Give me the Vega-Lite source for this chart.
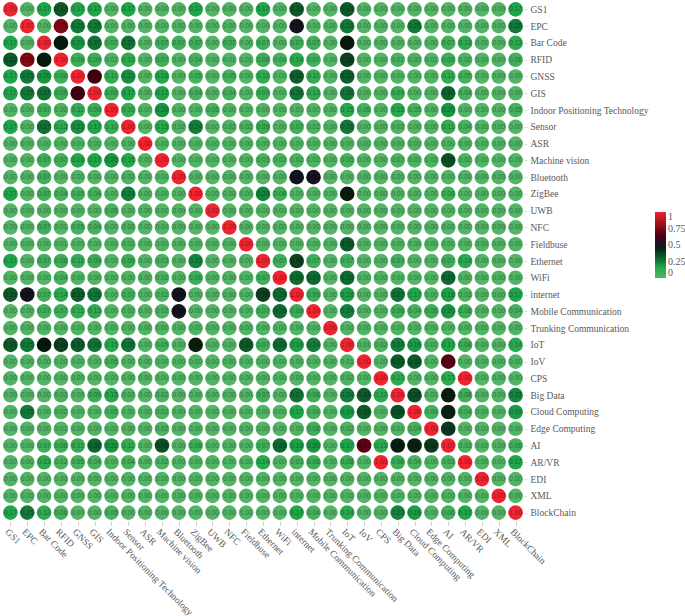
{"$schema":"https://vega.github.io/schema/vega-lite/v6.json","width":522,"height":520,"autosize":{"type":"none"},"padding":{"left":2,"top":1,"right":161,"bottom":95},"background":"white","view":{"stroke":null},"config":{"axis":{"grid":false,"domain":false}},
"data":{"values":[
{"x":0,"y":0,"v":1},{"x":1,"y":0,"v":0},{"x":2,"y":0,"v":0.17},{"x":3,"y":0,"v":0.33},{"x":4,"y":0,"v":0.17},{"x":5,"y":0,"v":0.17},{"x":6,"y":0,"v":0},{"x":7,"y":0,"v":0.17},{"x":8,"y":0,"v":0},{"x":9,"y":0,"v":0},{"x":10,"y":0,"v":0},{"x":11,"y":0,"v":0.17},{"x":12,"y":0,"v":0},{"x":13,"y":0,"v":0},{"x":14,"y":0,"v":0},{"x":15,"y":0,"v":0.17},{"x":16,"y":0,"v":0},{"x":17,"y":0,"v":0.33},{"x":18,"y":0,"v":0},{"x":19,"y":0,"v":0},{"x":20,"y":0,"v":0.33},{"x":21,"y":0,"v":0},{"x":22,"y":0,"v":0},{"x":23,"y":0,"v":0},{"x":24,"y":0,"v":0},{"x":25,"y":0,"v":0},{"x":26,"y":0,"v":0},{"x":27,"y":0,"v":0},{"x":28,"y":0,"v":0},{"x":29,"y":0,"v":0},{"x":30,"y":0,"v":0.17},
{"x":0,"y":1,"v":0},{"x":1,"y":1,"v":1},{"x":2,"y":1,"v":0},{"x":3,"y":1,"v":0.75},{"x":4,"y":1,"v":0.25},{"x":5,"y":1,"v":0.25},{"x":6,"y":1,"v":0},{"x":7,"y":1,"v":0},{"x":8,"y":1,"v":0},{"x":9,"y":1,"v":0},{"x":10,"y":1,"v":0},{"x":11,"y":1,"v":0},{"x":12,"y":1,"v":0},{"x":13,"y":1,"v":0},{"x":14,"y":1,"v":0},{"x":15,"y":1,"v":0},{"x":16,"y":1,"v":0},{"x":17,"y":1,"v":0.5},{"x":18,"y":1,"v":0},{"x":19,"y":1,"v":0},{"x":20,"y":1,"v":0.25},{"x":21,"y":1,"v":0},{"x":22,"y":1,"v":0},{"x":23,"y":1,"v":0},{"x":24,"y":1,"v":0.25},{"x":25,"y":1,"v":0},{"x":26,"y":1,"v":0},{"x":27,"y":1,"v":0},{"x":28,"y":1,"v":0},{"x":29,"y":1,"v":0},{"x":30,"y":1,"v":0.25},
{"x":0,"y":2,"v":0.17},{"x":1,"y":2,"v":0},{"x":2,"y":2,"v":1},{"x":3,"y":2,"v":0.47},{"x":4,"y":2,"v":0.2},{"x":5,"y":2,"v":0.27},{"x":6,"y":2,"v":0.07},{"x":7,"y":2,"v":0.27},{"x":8,"y":2,"v":0},{"x":9,"y":2,"v":0.07},{"x":10,"y":2,"v":0.07},{"x":11,"y":2,"v":0.07},{"x":12,"y":2,"v":0},{"x":13,"y":2,"v":0.07},{"x":14,"y":2,"v":0},{"x":15,"y":2,"v":0.07},{"x":16,"y":2,"v":0},{"x":17,"y":2,"v":0.07},{"x":18,"y":2,"v":0.07},{"x":19,"y":2,"v":0},{"x":20,"y":2,"v":0.47},{"x":21,"y":2,"v":0},{"x":22,"y":2,"v":0},{"x":23,"y":2,"v":0},{"x":24,"y":2,"v":0},{"x":25,"y":2,"v":0},{"x":26,"y":2,"v":0.07},{"x":27,"y":2,"v":0.13},{"x":28,"y":2,"v":0},{"x":29,"y":2,"v":0},{"x":30,"y":2,"v":0.13},
{"x":0,"y":3,"v":0.33},{"x":1,"y":3,"v":0.75},{"x":2,"y":3,"v":0.47},{"x":3,"y":3,"v":1},{"x":4,"y":3,"v":0.08},{"x":5,"y":3,"v":0.09},{"x":6,"y":3,"v":0.02},{"x":7,"y":3,"v":0.13},{"x":8,"y":3,"v":0},{"x":9,"y":3,"v":0.07},{"x":10,"y":3,"v":0},{"x":11,"y":3,"v":0.04},{"x":12,"y":3,"v":0},{"x":13,"y":3,"v":0.01},{"x":14,"y":3,"v":0.01},{"x":15,"y":3,"v":0.08},{"x":16,"y":3,"v":0.04},{"x":17,"y":3,"v":0.14},{"x":18,"y":3,"v":0.07},{"x":19,"y":3,"v":0},{"x":20,"y":3,"v":0.38},{"x":21,"y":3,"v":0},{"x":22,"y":3,"v":0},{"x":23,"y":3,"v":0.02},{"x":24,"y":3,"v":0.02},{"x":25,"y":3,"v":0.01},{"x":26,"y":3,"v":0.08},{"x":27,"y":3,"v":0.02},{"x":28,"y":3,"v":0},{"x":29,"y":3,"v":0},{"x":30,"y":3,"v":0.06},
{"x":0,"y":4,"v":0.17},{"x":1,"y":4,"v":0.25},{"x":2,"y":4,"v":0.2},{"x":3,"y":4,"v":0.08},{"x":4,"y":4,"v":1},{"x":5,"y":4,"v":0.62},{"x":6,"y":4,"v":0.11},{"x":7,"y":4,"v":0.21},{"x":8,"y":4,"v":0},{"x":9,"y":4,"v":0.16},{"x":10,"y":4,"v":0},{"x":11,"y":4,"v":0.05},{"x":12,"y":4,"v":0},{"x":13,"y":4,"v":0.05},{"x":14,"y":4,"v":0},{"x":15,"y":4,"v":0.11},{"x":16,"y":4,"v":0},{"x":17,"y":4,"v":0.32},{"x":18,"y":4,"v":0.11},{"x":19,"y":4,"v":0},{"x":20,"y":4,"v":0.32},{"x":21,"y":4,"v":0},{"x":22,"y":4,"v":0},{"x":23,"y":4,"v":0},{"x":24,"y":4,"v":0},{"x":25,"y":4,"v":0},{"x":26,"y":4,"v":0.11},{"x":27,"y":4,"v":0.05},{"x":28,"y":4,"v":0},{"x":29,"y":4,"v":0},{"x":30,"y":4,"v":0},
{"x":0,"y":5,"v":0.17},{"x":1,"y":5,"v":0.25},{"x":2,"y":5,"v":0.27},{"x":3,"y":5,"v":0.09},{"x":4,"y":5,"v":0.62},{"x":5,"y":5,"v":1},{"x":6,"y":5,"v":0.09},{"x":7,"y":5,"v":0.17},{"x":8,"y":5,"v":0},{"x":9,"y":5,"v":0.17},{"x":10,"y":5,"v":0},{"x":11,"y":5,"v":0.04},{"x":12,"y":5,"v":0},{"x":13,"y":5,"v":0.04},{"x":14,"y":5,"v":0},{"x":15,"y":5,"v":0.09},{"x":16,"y":5,"v":0},{"x":17,"y":5,"v":0.26},{"x":18,"y":5,"v":0.13},{"x":19,"y":5,"v":0},{"x":20,"y":5,"v":0.26},{"x":21,"y":5,"v":0},{"x":22,"y":5,"v":0},{"x":23,"y":5,"v":0.09},{"x":24,"y":5,"v":0},{"x":25,"y":5,"v":0},{"x":26,"y":5,"v":0.3},{"x":27,"y":5,"v":0.04},{"x":28,"y":5,"v":0},{"x":29,"y":5,"v":0},{"x":30,"y":5,"v":0},
{"x":0,"y":6,"v":0},{"x":1,"y":6,"v":0},{"x":2,"y":6,"v":0.07},{"x":3,"y":6,"v":0.02},{"x":4,"y":6,"v":0.11},{"x":5,"y":6,"v":0.09},{"x":6,"y":6,"v":1},{"x":7,"y":6,"v":0.1},{"x":8,"y":6,"v":0},{"x":9,"y":6,"v":0.2},{"x":10,"y":6,"v":0},{"x":11,"y":6,"v":0},{"x":12,"y":6,"v":0.05},{"x":13,"y":6,"v":0},{"x":14,"y":6,"v":0},{"x":15,"y":6,"v":0},{"x":16,"y":6,"v":0},{"x":17,"y":6,"v":0},{"x":18,"y":6,"v":0},{"x":19,"y":6,"v":0},{"x":20,"y":6,"v":0.15},{"x":21,"y":6,"v":0.05},{"x":22,"y":6,"v":0},{"x":23,"y":6,"v":0.15},{"x":24,"y":6,"v":0.05},{"x":25,"y":6,"v":0},{"x":26,"y":6,"v":0.2},{"x":27,"y":6,"v":0},{"x":28,"y":6,"v":0},{"x":29,"y":6,"v":0},{"x":30,"y":6,"v":0.05},
{"x":0,"y":7,"v":0.17},{"x":1,"y":7,"v":0},{"x":2,"y":7,"v":0.27},{"x":3,"y":7,"v":0.13},{"x":4,"y":7,"v":0.21},{"x":5,"y":7,"v":0.17},{"x":6,"y":7,"v":0.1},{"x":7,"y":7,"v":1},{"x":8,"y":7,"v":0},{"x":9,"y":7,"v":0.15},{"x":10,"y":7,"v":0.02},{"x":11,"y":7,"v":0.24},{"x":12,"y":7,"v":0},{"x":13,"y":7,"v":0.02},{"x":14,"y":7,"v":0.02},{"x":15,"y":7,"v":0.09},{"x":16,"y":7,"v":0},{"x":17,"y":7,"v":0.07},{"x":18,"y":7,"v":0.02},{"x":19,"y":7,"v":0},{"x":20,"y":7,"v":0.26},{"x":21,"y":7,"v":0},{"x":22,"y":7,"v":0},{"x":23,"y":7,"v":0.02},{"x":24,"y":7,"v":0},{"x":25,"y":7,"v":0},{"x":26,"y":7,"v":0.11},{"x":27,"y":7,"v":0.04},{"x":28,"y":7,"v":0},{"x":29,"y":7,"v":0},{"x":30,"y":7,"v":0},
{"x":0,"y":8,"v":0},{"x":1,"y":8,"v":0},{"x":2,"y":8,"v":0},{"x":3,"y":8,"v":0},{"x":4,"y":8,"v":0},{"x":5,"y":8,"v":0},{"x":6,"y":8,"v":0},{"x":7,"y":8,"v":0},{"x":8,"y":8,"v":1},{"x":9,"y":8,"v":0},{"x":10,"y":8,"v":0},{"x":11,"y":8,"v":0},{"x":12,"y":8,"v":0},{"x":13,"y":8,"v":0},{"x":14,"y":8,"v":0},{"x":15,"y":8,"v":0},{"x":16,"y":8,"v":0},{"x":17,"y":8,"v":0},{"x":18,"y":8,"v":0},{"x":19,"y":8,"v":0},{"x":20,"y":8,"v":0},{"x":21,"y":8,"v":0},{"x":22,"y":8,"v":0},{"x":23,"y":8,"v":0},{"x":24,"y":8,"v":0},{"x":25,"y":8,"v":0},{"x":26,"y":8,"v":0},{"x":27,"y":8,"v":0},{"x":28,"y":8,"v":0},{"x":29,"y":8,"v":0},{"x":30,"y":8,"v":0},
{"x":0,"y":9,"v":0},{"x":1,"y":9,"v":0},{"x":2,"y":9,"v":0.07},{"x":3,"y":9,"v":0.07},{"x":4,"y":9,"v":0.16},{"x":5,"y":9,"v":0.17},{"x":6,"y":9,"v":0.2},{"x":7,"y":9,"v":0.15},{"x":8,"y":9,"v":0},{"x":9,"y":9,"v":1},{"x":10,"y":9,"v":0},{"x":11,"y":9,"v":0},{"x":12,"y":9,"v":0},{"x":13,"y":9,"v":0},{"x":14,"y":9,"v":0},{"x":15,"y":9,"v":0.03},{"x":16,"y":9,"v":0.02},{"x":17,"y":9,"v":0.02},{"x":18,"y":9,"v":0.02},{"x":19,"y":9,"v":0},{"x":20,"y":9,"v":0.05},{"x":21,"y":9,"v":0},{"x":22,"y":9,"v":0},{"x":23,"y":9,"v":0.02},{"x":24,"y":9,"v":0.02},{"x":25,"y":9,"v":0.02},{"x":26,"y":9,"v":0.35},{"x":27,"y":9,"v":0.02},{"x":28,"y":9,"v":0},{"x":29,"y":9,"v":0},{"x":30,"y":9,"v":0},
{"x":0,"y":10,"v":0},{"x":1,"y":10,"v":0},{"x":2,"y":10,"v":0.07},{"x":3,"y":10,"v":0},{"x":4,"y":10,"v":0},{"x":5,"y":10,"v":0},{"x":6,"y":10,"v":0},{"x":7,"y":10,"v":0.02},{"x":8,"y":10,"v":0},{"x":9,"y":10,"v":0},{"x":10,"y":10,"v":1},{"x":11,"y":10,"v":0},{"x":12,"y":10,"v":0},{"x":13,"y":10,"v":0},{"x":14,"y":10,"v":0},{"x":15,"y":10,"v":0},{"x":16,"y":10,"v":0},{"x":17,"y":10,"v":0.5},{"x":18,"y":10,"v":0.5},{"x":19,"y":10,"v":0},{"x":20,"y":10,"v":0},{"x":21,"y":10,"v":0},{"x":22,"y":10,"v":0},{"x":23,"y":10,"v":0},{"x":24,"y":10,"v":0},{"x":25,"y":10,"v":0},{"x":26,"y":10,"v":0},{"x":27,"y":10,"v":0},{"x":28,"y":10,"v":0},{"x":29,"y":10,"v":0},{"x":30,"y":10,"v":0},
{"x":0,"y":11,"v":0.17},{"x":1,"y":11,"v":0},{"x":2,"y":11,"v":0.07},{"x":3,"y":11,"v":0.04},{"x":4,"y":11,"v":0.05},{"x":5,"y":11,"v":0.04},{"x":6,"y":11,"v":0},{"x":7,"y":11,"v":0.24},{"x":8,"y":11,"v":0},{"x":9,"y":11,"v":0},{"x":10,"y":11,"v":0},{"x":11,"y":11,"v":1},{"x":12,"y":11,"v":0},{"x":13,"y":11,"v":0},{"x":14,"y":11,"v":0},{"x":15,"y":11,"v":0.23},{"x":16,"y":11,"v":0.08},{"x":17,"y":11,"v":0},{"x":18,"y":11,"v":0},{"x":19,"y":11,"v":0},{"x":20,"y":11,"v":0.46},{"x":21,"y":11,"v":0},{"x":22,"y":11,"v":0},{"x":23,"y":11,"v":0},{"x":24,"y":11,"v":0},{"x":25,"y":11,"v":0},{"x":26,"y":11,"v":0.08},{"x":27,"y":11,"v":0},{"x":28,"y":11,"v":0},{"x":29,"y":11,"v":0},{"x":30,"y":11,"v":0},
{"x":0,"y":12,"v":0},{"x":1,"y":12,"v":0},{"x":2,"y":12,"v":0},{"x":3,"y":12,"v":0},{"x":4,"y":12,"v":0},{"x":5,"y":12,"v":0},{"x":6,"y":12,"v":0.05},{"x":7,"y":12,"v":0},{"x":8,"y":12,"v":0},{"x":9,"y":12,"v":0},{"x":10,"y":12,"v":0},{"x":11,"y":12,"v":0},{"x":12,"y":12,"v":1},{"x":13,"y":12,"v":0},{"x":14,"y":12,"v":0},{"x":15,"y":12,"v":0},{"x":16,"y":12,"v":0},{"x":17,"y":12,"v":0},{"x":18,"y":12,"v":0},{"x":19,"y":12,"v":0},{"x":20,"y":12,"v":0},{"x":21,"y":12,"v":0},{"x":22,"y":12,"v":0},{"x":23,"y":12,"v":0},{"x":24,"y":12,"v":0},{"x":25,"y":12,"v":0},{"x":26,"y":12,"v":0},{"x":27,"y":12,"v":0},{"x":28,"y":12,"v":0},{"x":29,"y":12,"v":0},{"x":30,"y":12,"v":0},
{"x":0,"y":13,"v":0},{"x":1,"y":13,"v":0},{"x":2,"y":13,"v":0.07},{"x":3,"y":13,"v":0.01},{"x":4,"y":13,"v":0.05},{"x":5,"y":13,"v":0.04},{"x":6,"y":13,"v":0},{"x":7,"y":13,"v":0.02},{"x":8,"y":13,"v":0},{"x":9,"y":13,"v":0},{"x":10,"y":13,"v":0},{"x":11,"y":13,"v":0},{"x":12,"y":13,"v":0},{"x":13,"y":13,"v":1},{"x":14,"y":13,"v":0},{"x":15,"y":13,"v":0},{"x":16,"y":13,"v":0},{"x":17,"y":13,"v":0},{"x":18,"y":13,"v":0},{"x":19,"y":13,"v":0},{"x":20,"y":13,"v":0},{"x":21,"y":13,"v":0},{"x":22,"y":13,"v":0},{"x":23,"y":13,"v":0},{"x":24,"y":13,"v":0},{"x":25,"y":13,"v":0},{"x":26,"y":13,"v":0},{"x":27,"y":13,"v":0},{"x":28,"y":13,"v":0},{"x":29,"y":13,"v":0},{"x":30,"y":13,"v":0},
{"x":0,"y":14,"v":0},{"x":1,"y":14,"v":0},{"x":2,"y":14,"v":0},{"x":3,"y":14,"v":0.01},{"x":4,"y":14,"v":0},{"x":5,"y":14,"v":0},{"x":6,"y":14,"v":0},{"x":7,"y":14,"v":0.02},{"x":8,"y":14,"v":0},{"x":9,"y":14,"v":0},{"x":10,"y":14,"v":0},{"x":11,"y":14,"v":0},{"x":12,"y":14,"v":0},{"x":13,"y":14,"v":0},{"x":14,"y":14,"v":1},{"x":15,"y":14,"v":0},{"x":16,"y":14,"v":0},{"x":17,"y":14,"v":0},{"x":18,"y":14,"v":0},{"x":19,"y":14,"v":0},{"x":20,"y":14,"v":0.33},{"x":21,"y":14,"v":0},{"x":22,"y":14,"v":0},{"x":23,"y":14,"v":0},{"x":24,"y":14,"v":0},{"x":25,"y":14,"v":0},{"x":26,"y":14,"v":0},{"x":27,"y":14,"v":0},{"x":28,"y":14,"v":0},{"x":29,"y":14,"v":0},{"x":30,"y":14,"v":0},
{"x":0,"y":15,"v":0.17},{"x":1,"y":15,"v":0},{"x":2,"y":15,"v":0.07},{"x":3,"y":15,"v":0.08},{"x":4,"y":15,"v":0.11},{"x":5,"y":15,"v":0.09},{"x":6,"y":15,"v":0},{"x":7,"y":15,"v":0.09},{"x":8,"y":15,"v":0},{"x":9,"y":15,"v":0.03},{"x":10,"y":15,"v":0},{"x":11,"y":15,"v":0.23},{"x":12,"y":15,"v":0},{"x":13,"y":15,"v":0},{"x":14,"y":15,"v":0},{"x":15,"y":15,"v":1},{"x":16,"y":15,"v":0.07},{"x":17,"y":15,"v":0.38},{"x":18,"y":15,"v":0.07},{"x":19,"y":15,"v":0},{"x":20,"y":15,"v":0.07},{"x":21,"y":15,"v":0},{"x":22,"y":15,"v":0},{"x":23,"y":15,"v":0.07},{"x":24,"y":15,"v":0},{"x":25,"y":15,"v":0},{"x":26,"y":15,"v":0.07},{"x":27,"y":15,"v":0.14},{"x":28,"y":15,"v":0},{"x":29,"y":15,"v":0},{"x":30,"y":15,"v":0},
{"x":0,"y":16,"v":0},{"x":1,"y":16,"v":0},{"x":2,"y":16,"v":0},{"x":3,"y":16,"v":0.04},{"x":4,"y":16,"v":0},{"x":5,"y":16,"v":0},{"x":6,"y":16,"v":0},{"x":7,"y":16,"v":0},{"x":8,"y":16,"v":0},{"x":9,"y":16,"v":0.02},{"x":10,"y":16,"v":0},{"x":11,"y":16,"v":0.08},{"x":12,"y":16,"v":0},{"x":13,"y":16,"v":0},{"x":14,"y":16,"v":0},{"x":15,"y":16,"v":0.07},{"x":16,"y":16,"v":1},{"x":17,"y":16,"v":0.29},{"x":18,"y":16,"v":0.29},{"x":19,"y":16,"v":0},{"x":20,"y":16,"v":0.29},{"x":21,"y":16,"v":0},{"x":22,"y":16,"v":0},{"x":23,"y":16,"v":0},{"x":24,"y":16,"v":0},{"x":25,"y":16,"v":0},{"x":26,"y":16,"v":0.29},{"x":27,"y":16,"v":0},{"x":28,"y":16,"v":0},{"x":29,"y":16,"v":0},{"x":30,"y":16,"v":0},
{"x":0,"y":17,"v":0.33},{"x":1,"y":17,"v":0.5},{"x":2,"y":17,"v":0.07},{"x":3,"y":17,"v":0.14},{"x":4,"y":17,"v":0.32},{"x":5,"y":17,"v":0.26},{"x":6,"y":17,"v":0},{"x":7,"y":17,"v":0.07},{"x":8,"y":17,"v":0},{"x":9,"y":17,"v":0.02},{"x":10,"y":17,"v":0.5},{"x":11,"y":17,"v":0},{"x":12,"y":17,"v":0},{"x":13,"y":17,"v":0},{"x":14,"y":17,"v":0},{"x":15,"y":17,"v":0.38},{"x":16,"y":17,"v":0.29},{"x":17,"y":17,"v":1},{"x":18,"y":17,"v":0.09},{"x":19,"y":17,"v":0},{"x":20,"y":17,"v":0.18},{"x":21,"y":17,"v":0},{"x":22,"y":17,"v":0},{"x":23,"y":17,"v":0.27},{"x":24,"y":17,"v":0.17},{"x":25,"y":17,"v":0},{"x":26,"y":17,"v":0.18},{"x":27,"y":17,"v":0.03},{"x":28,"y":17,"v":0},{"x":29,"y":17,"v":0},{"x":30,"y":17,"v":0.17},
{"x":0,"y":18,"v":0},{"x":1,"y":18,"v":0},{"x":2,"y":18,"v":0.07},{"x":3,"y":18,"v":0.07},{"x":4,"y":18,"v":0.11},{"x":5,"y":18,"v":0.13},{"x":6,"y":18,"v":0},{"x":7,"y":18,"v":0.02},{"x":8,"y":18,"v":0},{"x":9,"y":18,"v":0.02},{"x":10,"y":18,"v":0.5},{"x":11,"y":18,"v":0},{"x":12,"y":18,"v":0},{"x":13,"y":18,"v":0},{"x":14,"y":18,"v":0},{"x":15,"y":18,"v":0.07},{"x":16,"y":18,"v":0.29},{"x":17,"y":18,"v":0.09},{"x":18,"y":18,"v":1},{"x":19,"y":18,"v":0},{"x":20,"y":18,"v":0.24},{"x":21,"y":18,"v":0},{"x":22,"y":18,"v":0},{"x":23,"y":18,"v":0.08},{"x":24,"y":18,"v":0.04},{"x":25,"y":18,"v":0.08},{"x":26,"y":18,"v":0.2},{"x":27,"y":18,"v":0.08},{"x":28,"y":18,"v":0},{"x":29,"y":18,"v":0},{"x":30,"y":18,"v":0.04},
{"x":0,"y":19,"v":0},{"x":1,"y":19,"v":0},{"x":2,"y":19,"v":0},{"x":3,"y":19,"v":0},{"x":4,"y":19,"v":0},{"x":5,"y":19,"v":0},{"x":6,"y":19,"v":0},{"x":7,"y":19,"v":0},{"x":8,"y":19,"v":0},{"x":9,"y":19,"v":0},{"x":10,"y":19,"v":0},{"x":11,"y":19,"v":0},{"x":12,"y":19,"v":0},{"x":13,"y":19,"v":0},{"x":14,"y":19,"v":0},{"x":15,"y":19,"v":0},{"x":16,"y":19,"v":0},{"x":17,"y":19,"v":0},{"x":18,"y":19,"v":0},{"x":19,"y":19,"v":1},{"x":20,"y":19,"v":0},{"x":21,"y":19,"v":0},{"x":22,"y":19,"v":0},{"x":23,"y":19,"v":0},{"x":24,"y":19,"v":0},{"x":25,"y":19,"v":0},{"x":26,"y":19,"v":0},{"x":27,"y":19,"v":0},{"x":28,"y":19,"v":0},{"x":29,"y":19,"v":0},{"x":30,"y":19,"v":0},
{"x":0,"y":20,"v":0.33},{"x":1,"y":20,"v":0.25},{"x":2,"y":20,"v":0.47},{"x":3,"y":20,"v":0.38},{"x":4,"y":20,"v":0.32},{"x":5,"y":20,"v":0.26},{"x":6,"y":20,"v":0.15},{"x":7,"y":20,"v":0.26},{"x":8,"y":20,"v":0},{"x":9,"y":20,"v":0.05},{"x":10,"y":20,"v":0},{"x":11,"y":20,"v":0.46},{"x":12,"y":20,"v":0},{"x":13,"y":20,"v":0},{"x":14,"y":20,"v":0.33},{"x":15,"y":20,"v":0.07},{"x":16,"y":20,"v":0.29},{"x":17,"y":20,"v":0.18},{"x":18,"y":20,"v":0.24},{"x":19,"y":20,"v":0},{"x":20,"y":20,"v":1},{"x":21,"y":20,"v":0.01},{"x":22,"y":20,"v":0.02},{"x":23,"y":20,"v":0.24},{"x":24,"y":20,"v":0.19},{"x":25,"y":20,"v":0.02},{"x":26,"y":20,"v":0.17},{"x":27,"y":20,"v":0.08},{"x":28,"y":20,"v":0},{"x":29,"y":20,"v":0},{"x":30,"y":20,"v":0.14},
{"x":0,"y":21,"v":0},{"x":1,"y":21,"v":0},{"x":2,"y":21,"v":0},{"x":3,"y":21,"v":0},{"x":4,"y":21,"v":0},{"x":5,"y":21,"v":0},{"x":6,"y":21,"v":0.05},{"x":7,"y":21,"v":0},{"x":8,"y":21,"v":0},{"x":9,"y":21,"v":0},{"x":10,"y":21,"v":0},{"x":11,"y":21,"v":0},{"x":12,"y":21,"v":0},{"x":13,"y":21,"v":0},{"x":14,"y":21,"v":0},{"x":15,"y":21,"v":0},{"x":16,"y":21,"v":0},{"x":17,"y":21,"v":0},{"x":18,"y":21,"v":0},{"x":19,"y":21,"v":0},{"x":20,"y":21,"v":0.01},{"x":21,"y":21,"v":1},{"x":22,"y":21,"v":0},{"x":23,"y":21,"v":0.33},{"x":24,"y":21,"v":0.33},{"x":25,"y":21,"v":0},{"x":26,"y":21,"v":0.67},{"x":27,"y":21,"v":0},{"x":28,"y":21,"v":0},{"x":29,"y":21,"v":0},{"x":30,"y":21,"v":0},
{"x":0,"y":22,"v":0},{"x":1,"y":22,"v":0},{"x":2,"y":22,"v":0},{"x":3,"y":22,"v":0},{"x":4,"y":22,"v":0},{"x":5,"y":22,"v":0},{"x":6,"y":22,"v":0},{"x":7,"y":22,"v":0},{"x":8,"y":22,"v":0},{"x":9,"y":22,"v":0},{"x":10,"y":22,"v":0},{"x":11,"y":22,"v":0},{"x":12,"y":22,"v":0},{"x":13,"y":22,"v":0},{"x":14,"y":22,"v":0},{"x":15,"y":22,"v":0},{"x":16,"y":22,"v":0},{"x":17,"y":22,"v":0},{"x":18,"y":22,"v":0},{"x":19,"y":22,"v":0},{"x":20,"y":22,"v":0.02},{"x":21,"y":22,"v":0},{"x":22,"y":22,"v":1},{"x":23,"y":22,"v":0.13},{"x":24,"y":22,"v":0},{"x":25,"y":22,"v":0},{"x":26,"y":22,"v":0.13},{"x":27,"y":22,"v":1},{"x":28,"y":22,"v":0},{"x":29,"y":22,"v":0},{"x":30,"y":22,"v":0},
{"x":0,"y":23,"v":0},{"x":1,"y":23,"v":0},{"x":2,"y":23,"v":0},{"x":3,"y":23,"v":0.02},{"x":4,"y":23,"v":0},{"x":5,"y":23,"v":0.09},{"x":6,"y":23,"v":0.15},{"x":7,"y":23,"v":0.02},{"x":8,"y":23,"v":0},{"x":9,"y":23,"v":0.02},{"x":10,"y":23,"v":0},{"x":11,"y":23,"v":0},{"x":12,"y":23,"v":0},{"x":13,"y":23,"v":0},{"x":14,"y":23,"v":0},{"x":15,"y":23,"v":0.07},{"x":16,"y":23,"v":0},{"x":17,"y":23,"v":0.27},{"x":18,"y":23,"v":0.08},{"x":19,"y":23,"v":0},{"x":20,"y":23,"v":0.24},{"x":21,"y":23,"v":0.33},{"x":22,"y":23,"v":0.13},{"x":23,"y":23,"v":1},{"x":24,"y":23,"v":0.35},{"x":25,"y":23,"v":0.01},{"x":26,"y":23,"v":0.46},{"x":27,"y":23,"v":0.08},{"x":28,"y":23,"v":0},{"x":29,"y":23,"v":0},{"x":30,"y":23,"v":0.23},
{"x":0,"y":24,"v":0},{"x":1,"y":24,"v":0.25},{"x":2,"y":24,"v":0},{"x":3,"y":24,"v":0.02},{"x":4,"y":24,"v":0},{"x":5,"y":24,"v":0},{"x":6,"y":24,"v":0.05},{"x":7,"y":24,"v":0},{"x":8,"y":24,"v":0},{"x":9,"y":24,"v":0.02},{"x":10,"y":24,"v":0},{"x":11,"y":24,"v":0},{"x":12,"y":24,"v":0},{"x":13,"y":24,"v":0},{"x":14,"y":24,"v":0},{"x":15,"y":24,"v":0},{"x":16,"y":24,"v":0},{"x":17,"y":24,"v":0.17},{"x":18,"y":24,"v":0.04},{"x":19,"y":24,"v":0},{"x":20,"y":24,"v":0.19},{"x":21,"y":24,"v":0.33},{"x":22,"y":24,"v":0},{"x":23,"y":24,"v":0.35},{"x":24,"y":24,"v":1},{"x":25,"y":24,"v":0.04},{"x":26,"y":24,"v":0.45},{"x":27,"y":24,"v":0.04},{"x":28,"y":24,"v":0},{"x":29,"y":24,"v":0},{"x":30,"y":24,"v":0.19},
{"x":0,"y":25,"v":0},{"x":1,"y":25,"v":0},{"x":2,"y":25,"v":0},{"x":3,"y":25,"v":0.01},{"x":4,"y":25,"v":0},{"x":5,"y":25,"v":0},{"x":6,"y":25,"v":0},{"x":7,"y":25,"v":0},{"x":8,"y":25,"v":0},{"x":9,"y":25,"v":0.02},{"x":10,"y":25,"v":0},{"x":11,"y":25,"v":0},{"x":12,"y":25,"v":0},{"x":13,"y":25,"v":0},{"x":14,"y":25,"v":0},{"x":15,"y":25,"v":0},{"x":16,"y":25,"v":0},{"x":17,"y":25,"v":0},{"x":18,"y":25,"v":0.08},{"x":19,"y":25,"v":0},{"x":20,"y":25,"v":0.02},{"x":21,"y":25,"v":0},{"x":22,"y":25,"v":0},{"x":23,"y":25,"v":0.01},{"x":24,"y":25,"v":0.04},{"x":25,"y":25,"v":1},{"x":26,"y":25,"v":0.4},{"x":27,"y":25,"v":0},{"x":28,"y":25,"v":0},{"x":29,"y":25,"v":0},{"x":30,"y":25,"v":0},
{"x":0,"y":26,"v":0},{"x":1,"y":26,"v":0},{"x":2,"y":26,"v":0.07},{"x":3,"y":26,"v":0.08},{"x":4,"y":26,"v":0.11},{"x":5,"y":26,"v":0.3},{"x":6,"y":26,"v":0.2},{"x":7,"y":26,"v":0.11},{"x":8,"y":26,"v":0},{"x":9,"y":26,"v":0.35},{"x":10,"y":26,"v":0},{"x":11,"y":26,"v":0.08},{"x":12,"y":26,"v":0},{"x":13,"y":26,"v":0},{"x":14,"y":26,"v":0},{"x":15,"y":26,"v":0.07},{"x":16,"y":26,"v":0.29},{"x":17,"y":26,"v":0.18},{"x":18,"y":26,"v":0.2},{"x":19,"y":26,"v":0},{"x":20,"y":26,"v":0.17},{"x":21,"y":26,"v":0.67},{"x":22,"y":26,"v":0.13},{"x":23,"y":26,"v":0.46},{"x":24,"y":26,"v":0.45},{"x":25,"y":26,"v":0.4},{"x":26,"y":26,"v":1},{"x":27,"y":26,"v":0.03},{"x":28,"y":26,"v":0},{"x":29,"y":26,"v":0},{"x":30,"y":26,"v":0.06},
{"x":0,"y":27,"v":0},{"x":1,"y":27,"v":0},{"x":2,"y":27,"v":0.13},{"x":3,"y":27,"v":0.02},{"x":4,"y":27,"v":0.05},{"x":5,"y":27,"v":0.04},{"x":6,"y":27,"v":0},{"x":7,"y":27,"v":0.04},{"x":8,"y":27,"v":0},{"x":9,"y":27,"v":0.02},{"x":10,"y":27,"v":0},{"x":11,"y":27,"v":0},{"x":12,"y":27,"v":0},{"x":13,"y":27,"v":0},{"x":14,"y":27,"v":0},{"x":15,"y":27,"v":0.14},{"x":16,"y":27,"v":0},{"x":17,"y":27,"v":0.03},{"x":18,"y":27,"v":0.08},{"x":19,"y":27,"v":0},{"x":20,"y":27,"v":0.08},{"x":21,"y":27,"v":0},{"x":22,"y":27,"v":1},{"x":23,"y":27,"v":0.08},{"x":24,"y":27,"v":0.04},{"x":25,"y":27,"v":0},{"x":26,"y":27,"v":0.03},{"x":27,"y":27,"v":1},{"x":28,"y":27,"v":0},{"x":29,"y":27,"v":0},{"x":30,"y":27,"v":0.17},
{"x":0,"y":28,"v":0},{"x":1,"y":28,"v":0},{"x":2,"y":28,"v":0},{"x":3,"y":28,"v":0},{"x":4,"y":28,"v":0},{"x":5,"y":28,"v":0},{"x":6,"y":28,"v":0},{"x":7,"y":28,"v":0},{"x":8,"y":28,"v":0},{"x":9,"y":28,"v":0},{"x":10,"y":28,"v":0},{"x":11,"y":28,"v":0},{"x":12,"y":28,"v":0},{"x":13,"y":28,"v":0},{"x":14,"y":28,"v":0},{"x":15,"y":28,"v":0},{"x":16,"y":28,"v":0},{"x":17,"y":28,"v":0},{"x":18,"y":28,"v":0},{"x":19,"y":28,"v":0},{"x":20,"y":28,"v":0},{"x":21,"y":28,"v":0},{"x":22,"y":28,"v":0},{"x":23,"y":28,"v":0},{"x":24,"y":28,"v":0},{"x":25,"y":28,"v":0},{"x":26,"y":28,"v":0},{"x":27,"y":28,"v":0},{"x":28,"y":28,"v":1},{"x":29,"y":28,"v":0},{"x":30,"y":28,"v":0},
{"x":0,"y":29,"v":0},{"x":1,"y":29,"v":0},{"x":2,"y":29,"v":0},{"x":3,"y":29,"v":0},{"x":4,"y":29,"v":0},{"x":5,"y":29,"v":0},{"x":6,"y":29,"v":0},{"x":7,"y":29,"v":0},{"x":8,"y":29,"v":0},{"x":9,"y":29,"v":0},{"x":10,"y":29,"v":0},{"x":11,"y":29,"v":0},{"x":12,"y":29,"v":0},{"x":13,"y":29,"v":0},{"x":14,"y":29,"v":0},{"x":15,"y":29,"v":0},{"x":16,"y":29,"v":0},{"x":17,"y":29,"v":0},{"x":18,"y":29,"v":0},{"x":19,"y":29,"v":0},{"x":20,"y":29,"v":0},{"x":21,"y":29,"v":0},{"x":22,"y":29,"v":0},{"x":23,"y":29,"v":0},{"x":24,"y":29,"v":0},{"x":25,"y":29,"v":0},{"x":26,"y":29,"v":0},{"x":27,"y":29,"v":0},{"x":28,"y":29,"v":0},{"x":29,"y":29,"v":1},{"x":30,"y":29,"v":0},
{"x":0,"y":30,"v":0.17},{"x":1,"y":30,"v":0.25},{"x":2,"y":30,"v":0.13},{"x":3,"y":30,"v":0.06},{"x":4,"y":30,"v":0},{"x":5,"y":30,"v":0},{"x":6,"y":30,"v":0.05},{"x":7,"y":30,"v":0},{"x":8,"y":30,"v":0},{"x":9,"y":30,"v":0},{"x":10,"y":30,"v":0},{"x":11,"y":30,"v":0},{"x":12,"y":30,"v":0},{"x":13,"y":30,"v":0},{"x":14,"y":30,"v":0},{"x":15,"y":30,"v":0},{"x":16,"y":30,"v":0},{"x":17,"y":30,"v":0.17},{"x":18,"y":30,"v":0.04},{"x":19,"y":30,"v":0},{"x":20,"y":30,"v":0.14},{"x":21,"y":30,"v":0},{"x":22,"y":30,"v":0},{"x":23,"y":30,"v":0.23},{"x":24,"y":30,"v":0.19},{"x":25,"y":30,"v":0},{"x":26,"y":30,"v":0.06},{"x":27,"y":30,"v":0.17},{"x":28,"y":30,"v":0},{"x":29,"y":30,"v":0},{"x":30,"y":30,"v":1}
]},
"encoding":{
"x":{"field":"x","type":"ordinal","sort":"ascending","title":null,"scale":{"type":"point","padding":0.5},"axis":{"orient":"bottom","labelAngle":45,"labelAlign":"left","labelBaseline":"middle","labelFont":"Liberation Serif","labelFontSize":9.5,"labelColor":"#595959","labelPadding":5,"labelOffset":-4,"tickColor":"#cccccc","tickSize":4,"labelLimit":250,"labelOverlap":false,"labelExpr":"['GS1','EPC','Bar Code','RFID','GNSS','GIS','Indoor Positioning Technology','Sensor','ASR','Machine vision','Bluetooth','ZigBee','UWB','NFC','Fieldbuse','Ethernet','WiFi','internet','Mobile Communication','Trunking Communication','IoT','IoV','CPS','Big Data','Cloud Computing','Edge Computing','AI','AR/VR','EDI','XML','BlockChain'][datum.value]"}},
"y":{"field":"y","type":"ordinal","sort":"ascending","title":null,"scale":{"type":"point","padding":0.5},"axis":{"orient":"right","labelAlign":"left","labelFont":"Liberation Serif","labelFontSize":9.5,"labelColor":"#595959","labelPadding":3,"tickColor":"#dddddd","tickSize":3,"labelLimit":250,"labelOverlap":false,"labelExpr":"['GS1','EPC','Bar Code','RFID','GNSS','GIS','Indoor Positioning Technology','Sensor','ASR','Machine vision','Bluetooth','ZigBee','UWB','NFC','Fieldbuse','Ethernet','WiFi','internet','Mobile Communication','Trunking Communication','IoT','IoV','CPS','Big Data','Cloud Computing','Edge Computing','AI','AR/VR','EDI','XML','BlockChain'][datum.value]"}}
},
"layer":[
{"mark":{"type":"circle","size":215,"opacity":1},"encoding":{"color":{"field":"v","type":"quantitative","scale":{"domain":[0,0.17,0.25,0.33,0.47,0.5,0.62,0.75,1],"range":["#52b566","#1fa64a","#137a3a","#0c5a2a","#061a0c","#14131f","#45000f","#7d0a14","#ee2530"]},"legend":{"title":null,"orient":"none","legendX":653,"legendY":211,"gradientLength":66,"gradientThickness":11,"values":[0,0.25,0.5,0.75,1],"labelFont":"Liberation Serif","labelFontSize":10,"labelColor":"#595959","format":".2~f"}}}},
{"mark":{"type":"text","fontSize":6.5,"font":"Liberation Sans","color":"#000000","opacity":0.4},"encoding":{"text":{"field":"v","type":"quantitative","format":".2f"}}}
]}
